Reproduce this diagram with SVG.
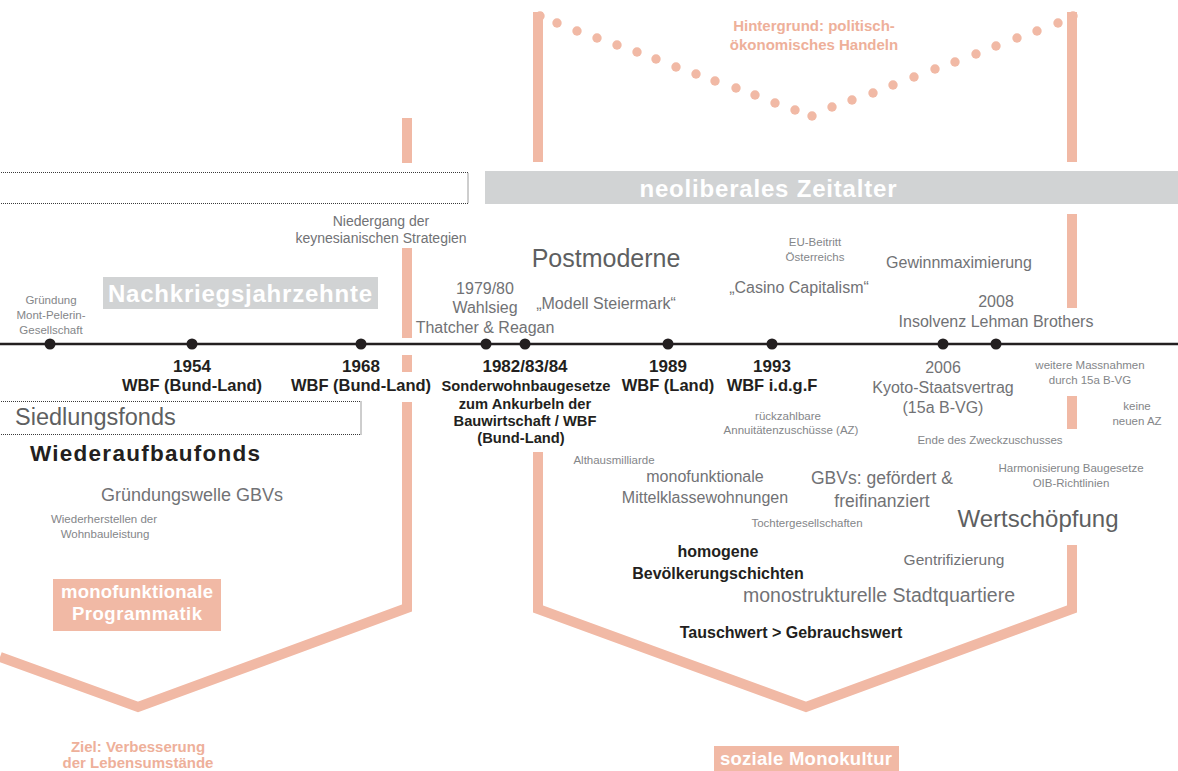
<svg xmlns="http://www.w3.org/2000/svg" width="1178" height="771" viewBox="0 0 1178 771">
<style>
text{font-family:"Liberation Sans",Arial,sans-serif}
.l{fill:#717275}
.d{fill:#5e5f61}
.s{fill:#848689;font-size:11.5px}
.m{font-size:16px}
.b{font-weight:bold;fill:#231f20}
.c{text-anchor:middle}
.w{fill:#ffffff;font-weight:bold}
.sal{fill:#eeb09a;font-weight:bold}
.bar{fill:#f1b9a5}
.chev{fill:none;stroke:#f1b9a5;stroke-width:10;stroke-linejoin:miter}
.dot{fill:#f1b9a5}
.tl{fill:#231f20}
.box{fill:none;stroke:#3a3a3a;stroke-width:1;stroke-dasharray:1 1}
</style>

<g id="connectors">
  <line x1="0" y1="344" x2="1178" y2="344" stroke="#231f20" stroke-width="2.6"/>
  <circle class="tl" cx="50" cy="344" r="5.5"/>
  <circle class="tl" cx="192" cy="344" r="5.5"/>
  <circle class="tl" cx="361" cy="344" r="5.5"/>
  <circle class="tl" cx="486" cy="344" r="5.5"/>
  <circle class="tl" cx="525" cy="344" r="5.5"/>
  <circle class="tl" cx="668" cy="344" r="5.5"/>
  <circle class="tl" cx="772" cy="344" r="5.5"/>
  <circle class="tl" cx="943" cy="344" r="5.5"/>
  <circle class="tl" cx="996" cy="344" r="5.5"/>
  <rect class="bar" x="402" y="118" width="10" height="45"/>
  <rect class="bar" x="402" y="248" width="10" height="90"/>
  <rect class="bar" x="402" y="355" width="10" height="17"/>
  <polyline class="chev" points="0,657 138,707 407,608 407,402"/>
  <rect class="bar" x="533" y="12" width="10" height="150"/>
  <rect class="bar" x="1067" y="12" width="10" height="150"/>
  <rect class="bar" x="1067" y="214" width="10" height="94"/>
  <rect class="bar" x="1067" y="396" width="10" height="33"/>
  <polyline class="chev" points="538,452 538,609 806,707 1072,609 1072,545"/>
  <g id="dots">
    <circle class="dot" cx="540" cy="16" r="4.7"/>
    <circle class="dot" cx="1073" cy="16" r="4.7"/>
    <circle class="dot" cx="557" cy="23" r="4.7"/>
    <circle class="dot" cx="577" cy="31" r="4.7"/>
    <circle class="dot" cx="597" cy="38" r="4.7"/>
    <circle class="dot" cx="617" cy="45" r="4.7"/>
    <circle class="dot" cx="637" cy="52" r="4.7"/>
    <circle class="dot" cx="656" cy="59" r="4.7"/>
    <circle class="dot" cx="676" cy="67" r="4.7"/>
    <circle class="dot" cx="696" cy="74" r="4.7"/>
    <circle class="dot" cx="715" cy="81" r="4.7"/>
    <circle class="dot" cx="736" cy="88" r="4.7"/>
    <circle class="dot" cx="755" cy="95" r="4.7"/>
    <circle class="dot" cx="775" cy="103" r="4.7"/>
    <circle class="dot" cx="795" cy="110" r="4.7"/>
    <circle class="dot" cx="812" cy="116" r="4.7"/>
    <circle class="dot" cx="832" cy="107" r="4.7"/>
    <circle class="dot" cx="852" cy="100" r="4.7"/>
    <circle class="dot" cx="873" cy="93" r="4.7"/>
    <circle class="dot" cx="893" cy="85" r="4.7"/>
    <circle class="dot" cx="914" cy="77" r="4.7"/>
    <circle class="dot" cx="935" cy="69" r="4.7"/>
    <circle class="dot" cx="955" cy="62" r="4.7"/>
    <circle class="dot" cx="976" cy="54" r="4.7"/>
    <circle class="dot" cx="996" cy="46" r="4.7"/>
    <circle class="dot" cx="1017" cy="38" r="4.7"/>
    <circle class="dot" cx="1037" cy="31" r="4.7"/>
    <circle class="dot" cx="1058" cy="23" r="4.7"/>
  </g>
</g>

<g id="hintergrund">
  <text class="sal c" x="814" y="31" font-size="15">Hintergrund: politisch-</text>
  <text class="sal c" x="814" y="50" font-size="15">ökonomisches Handeln</text>
</g>

<g id="neoliberal">
  <rect x="485" y="171" width="693" height="33" fill="#d1d3d4"/>
  <text class="w c" x="768" y="196.5" font-size="24" textLength="257" lengthAdjust="spacing">neoliberales Zeitalter</text>
</g>

<g id="leer-box">
  <rect class="box" x="-1" y="172.5" width="469" height="31"/>
</g>

<g id="nachkrieg">
  <rect x="103" y="277" width="275" height="32" fill="#d1d3d4"/>
  <text class="w c" x="240" y="301.5" font-size="24" textLength="264" lengthAdjust="spacing">Nachkriegsjahrzehnte</text>
</g>

<g id="mont-pelerin">
  <text class="s c" x="51" y="304">Gründung</text>
  <text class="s c" x="51" y="319">Mont-Pelerin-</text>
  <text class="s c" x="51" y="334">Gesellschaft</text>
</g>

<g id="keynes">
  <text class="l c" x="381" y="226" font-size="14">Niedergang der</text>
  <text class="l c" x="381" y="243" font-size="14">keynesianischen Strategien</text>
</g>

<g id="thatcher">
  <text class="l c m" x="485" y="294">1979/80</text>
  <text class="l c m" x="485" y="313">Wahlsieg</text>
  <text class="l c m" x="485" y="333">Thatcher &amp; Reagan</text>
</g>

<g id="postmoderne">
  <text class="d c" x="606" y="267" font-size="25">Postmoderne</text>
  <text class="l c m" x="606" y="309">„Modell Steiermark“</text>
</g>

<g id="eu">
  <text class="s c" x="815" y="246">EU-Beitritt</text>
  <text class="s c" x="815" y="261">Österreichs</text>
  <text class="l c m" x="799" y="293">„Casino Capitalism“</text>
</g>

<g id="gewinn">
  <text class="l c m" x="959" y="268">Gewinnmaximierung</text>
</g>

<g id="lehman">
  <text class="l c m" x="996" y="307">2008</text>
  <text class="l c m" x="996" y="327">Insolvenz Lehman Brothers</text>
</g>

<g id="y1954">
  <text class="b c" x="192" y="372" font-size="17">1954</text>
  <text class="b c" x="192" y="391" font-size="16.5">WBF (Bund-Land)</text>
</g>

<g id="y1968">
  <text class="b c" x="361" y="372" font-size="17">1968</text>
  <text class="b c" x="361" y="391" font-size="16.5">WBF (Bund-Land)</text>
</g>

<g id="y1982">
  <text class="b c" x="525" y="372" font-size="17">1982/83/84</text>
  <text class="b c" x="526" y="391" font-size="14.7">Sonderwohnbaugesetze</text>
  <text class="b c" x="525" y="409" font-size="14.7">zum Ankurbeln der</text>
  <text class="b c" x="525" y="426" font-size="14.7">Bauwirtschaft / WBF</text>
  <text class="b c" x="521" y="443" font-size="14.7">(Bund-Land)</text>
</g>

<g id="y1989">
  <text class="b c" x="668" y="372" font-size="17">1989</text>
  <text class="b c" x="668" y="391" font-size="16.5">WBF (Land)</text>
</g>

<g id="y1993">
  <text class="b c" x="772" y="372" font-size="17">1993</text>
  <text class="b c" x="772" y="391" font-size="16.5">WBF i.d.g.F</text>
  <text class="s c" x="788" y="420">rückzahlbare</text>
  <text class="s c" x="791" y="434">Annuitätenzuschüsse (AZ)</text>
</g>

<g id="y2006">
  <text class="l c m" x="943" y="373">2006</text>
  <text class="l c m" x="943" y="393">Kyoto-Staatsvertrag</text>
  <text class="l c m" x="943" y="413">(15a B-VG)</text>
</g>

<g id="massnahmen">
  <text class="s c" x="1090" y="369">weitere Massnahmen</text>
  <text class="s c" x="1090" y="384">durch 15a B-VG</text>
  <text class="s c" x="1137" y="410">keine</text>
  <text class="s c" x="1137" y="425">neuen AZ</text>
  <text class="s c" x="990" y="444">Ende des Zweckzuschusses</text>
  <text class="s c" x="1071" y="472">Harmonisierung Baugesetze</text>
  <text class="s c" x="1071" y="487">OIB-Richtlinien</text>
</g>

<g id="siedlungsfonds">
  <rect class="box" x="-1" y="401.5" width="362" height="33"/>
  <text class="d" x="15" y="425" font-size="23.5">Siedlungsfonds</text>
</g>

<g id="wiederaufbau">
  <text class="b" x="30" y="461" font-size="22.5" textLength="230" lengthAdjust="spacing">Wiederaufbaufonds</text>
  <text class="l c" x="192" y="501" font-size="18">Gründungswelle GBVs</text>
  <text class="s c" x="104" y="523">Wiederherstellen der</text>
  <text class="s c" x="105" y="538">Wohnbauleistung</text>
</g>

<g id="programmatik">
  <rect class="bar" x="53" y="579" width="168" height="52"/>
  <text class="w c" x="137" y="598" font-size="18.5" textLength="152" lengthAdjust="spacing">monofunktionale</text>
  <text class="w c" x="137" y="620" font-size="18.5" textLength="130" lengthAdjust="spacing">Programmatik</text>
</g>

<g id="ziel">
  <text class="sal c" x="138" y="752" font-size="15">Ziel: Verbesserung</text>
  <text class="sal c" x="138" y="768" font-size="15">der Lebensumstände</text>
</g>

<g id="monokultur-inhalt">
  <text class="s c" x="614" y="464">Althausmilliarde</text>
  <text class="l c m" x="705" y="482">monofunktionale</text>
  <text class="l c m" x="705" y="503">Mittelklassewohnungen</text>
  <text class="l c" x="882" y="484" font-size="17.5">GBVs: gefördert &amp;</text>
  <text class="l c" x="882" y="507" font-size="17.5">freifinanziert</text>
  <text class="s c" x="807" y="527">Tochtergesellschaften</text>
  <text class="d c" x="1038" y="527" font-size="24">Wertschöpfung</text>
  <text class="b c" x="718" y="557" font-size="16">homogene</text>
  <text class="b c" x="718" y="579" font-size="16">Bevölkerungschichten</text>
  <text class="l c" x="954" y="565" font-size="15.5">Gentrifizierung</text>
  <text class="l c" x="879" y="602" font-size="19.5">monostrukturelle Stadtquartiere</text>
  <text class="b c" x="791" y="638" font-size="16">Tauschwert &gt; Gebrauchswert</text>
</g>

<g id="soziale-monokultur">
  <rect class="bar" x="714" y="746" width="185" height="25"/>
  <text class="w c" x="806" y="765" font-size="18.5" textLength="172" lengthAdjust="spacing">soziale Monokultur</text>
</g>
</svg>
